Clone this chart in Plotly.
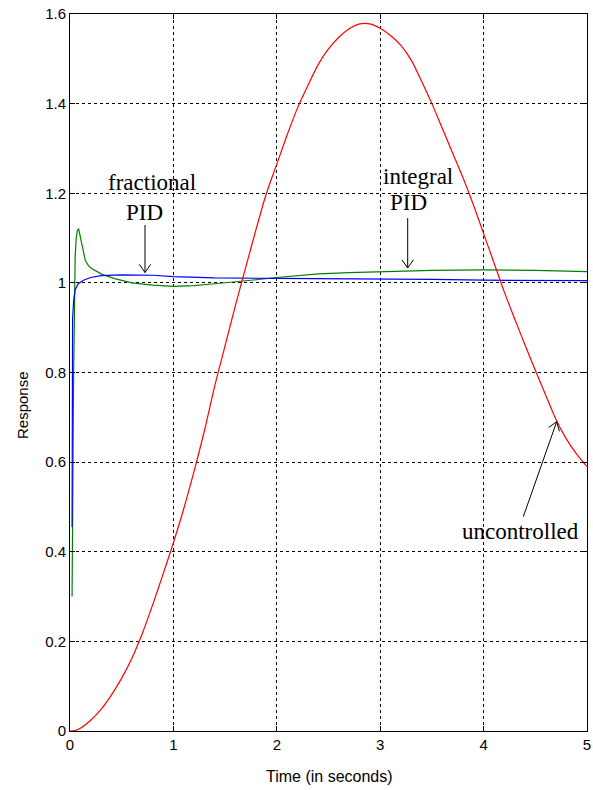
import math
import plotly.graph_objects as go

# ---------------- data ----------------
t_uncontrolled = [0, 0.05, 0.1, 0.2, 0.3, 0.4, 0.5, 0.6, 0.7, 0.8, 0.9, 1.0, 1.1, 1.2, 1.3, 1.4,
                  1.5, 1.6, 1.7, 1.8, 1.9, 2.0, 2.1, 2.2, 2.3, 2.4, 2.5, 2.6, 2.7, 2.8, 2.9,
                  3.0, 3.1, 3.2, 3.3, 3.4, 3.5, 3.6, 3.7, 3.8, 3.9, 4.0, 4.1, 4.2, 4.3, 4.4,
                  4.5, 4.6, 4.7, 4.8, 4.9, 5.0]
y_uncontrolled = [0, 0.001, 0.006, 0.024, 0.048, 0.08, 0.118, 0.163, 0.218, 0.282, 0.35, 0.42, 0.496,
                  0.58, 0.67, 0.77, 0.86, 0.95, 1.035, 1.12, 1.2, 1.265, 1.33, 1.39, 1.44,
                  1.487, 1.522, 1.548, 1.567, 1.578, 1.578, 1.568, 1.552, 1.53, 1.497, 1.45,
                  1.4, 1.345, 1.29, 1.235, 1.175, 1.11, 1.045, 0.98, 0.92, 0.862, 0.805,
                  0.75, 0.695, 0.652, 0.618, 0.59]

t_integral = [0.02, 0.025, 0.035, 0.04, 0.045, 0.05, 0.06, 0.072, 0.084, 0.095, 0.116, 0.148,
              0.18, 0.21, 0.31, 0.44, 0.6, 0.8, 1.0, 1.2, 1.4, 1.6, 1.8, 2.0, 2.2, 2.4, 2.7,
              3.0, 3.5, 4.0, 4.5, 5.0]
y_integral = [0.30, 0.6, 0.8, 0.88, 1.0, 1.06, 1.1, 1.118, 1.12, 1.108, 1.088, 1.05,
              1.038, 1.032, 1.019, 1.009, 1.0, 0.995, 0.992, 0.994, 0.998, 1.002, 1.007,
              1.012, 1.016, 1.02, 1.023, 1.025, 1.028, 1.029, 1.028, 1.025]

t_fractional = [0.02, 0.022, 0.025, 0.035, 0.05, 0.08, 0.13, 0.2, 0.3, 0.5, 0.8, 1.0, 1.4,
                2.0, 3.0, 3.5, 4.0, 5.0]
y_fractional = [0.455, 0.8, 0.92, 0.96, 0.985, 0.998, 1.006, 1.012, 1.016, 1.018, 1.017,
                1.014, 1.011, 1.01, 1.009, 1.008, 1.006, 1.005]

x_ticks = [0, 1, 2, 3, 4, 5]
x_ticktext = ["0", "1", "2", "3", "4", "5"]
y_ticks = [0, 0.2, 0.4, 0.6, 0.8, 1.0, 1.2, 1.4, 1.6]
y_ticktext = ["0", "0.2", "0.4", "0.6", "0.8", "1", "1.2", "1.4", "1.6"]

# ---------------- geometry ----------------
# page body margin is removed in post_script; plot area spans x 70..587, y 14..731
W, H = 593, 790
SL, SR, ST, SB = 70, 587, 14, 731
ML, MT, MR, MB = SL, ST, W - SR, H - SB
X0, X1, Y0, Y1 = 0, 5, 0, 1.6
pw, ph = SR - SL, SB - ST


def px2x(px):
    return X0 + (px - SL) / pw * (X1 - X0)


def px2y(py):
    return Y0 + (SB - py) / ph * (Y1 - Y0)


fig = go.Figure()
fig.add_trace(go.Scatter(x=t_integral, y=y_integral, mode="lines",
                         line=dict(color="#008000", width=1.2), name="integral PID"))
fig.add_trace(go.Scatter(x=t_fractional, y=y_fractional, mode="lines",
                         line=dict(color="#0000ff", width=1.2), name="fractional PID"))
fig.add_trace(go.Scatter(x=t_uncontrolled, y=y_uncontrolled, mode="lines",
                         line=dict(color="#ff0000", width=1.2, shape="spline", smoothing=0.8),
                         name="uncontrolled"))

serif = "Liberation Serif, Times New Roman, serif"
labels = [
    ("fractional", 152, 182),
    ("PID", 144, 212),
    ("integral", 417.5, 176),
    ("PID", 408.7, 202),
    ("uncontrolled", 520.5, 531),
]
annotations = []
for txt, px, py in labels:
    annotations.append(dict(text=txt, x=px2x(px), y=px2y(py), xref="x", yref="y",
                            showarrow=False, xanchor="center", yanchor="middle",
                            font=dict(family=serif, size=23, color="black")))

# axis titles placed in paper coordinates
sans = "Liberation Sans, Arial, sans-serif"
annotations.append(dict(text="Time (in seconds)", x=(329.5 - SL) / pw, y=(SB - 776) / ph,
                        xref="paper", yref="paper", showarrow=False,
                        xanchor="center", yanchor="middle",
                        font=dict(family=sans, size=16, color="black")))
annotations.append(dict(text="Response", x=(22 - SL) / pw, y=(SB - 405) / ph,
                        xref="paper", yref="paper", showarrow=False, textangle=-90,
                        xanchor="center", yanchor="middle",
                        font=dict(family=sans, size=15, color="black")))

# arrows (tail px, head px) drawn as line shapes with open V heads
arrows = [((145, 225), (145, 272.5)),
          ((407.7, 218), (407.7, 268)),
          ((523.3, 516.7), (556.7, 421.7))]
shapes = []
for (tx, ty), (hx, hy) in arrows:
    shapes.append(dict(type="line", xref="x", yref="y", x0=px2x(tx), y0=px2y(ty),
                       x1=px2x(hx), y1=px2y(hy), line=dict(color="black", width=1)))
    dx, dy = tx - hx, ty - hy
    L = math.hypot(dx, dy)
    ux, uy = dx / L, dy / L
    for ang in (math.radians(35), -math.radians(35)):
        ax = ux * math.cos(ang) - uy * math.sin(ang)
        ay = ux * math.sin(ang) + uy * math.cos(ang)
        shapes.append(dict(type="line", xref="x", yref="y", x0=px2x(hx), y0=px2y(hy),
                           x1=px2x(hx + 10 * ax), y1=px2y(hy + 10 * ay),
                           line=dict(color="black", width=1)))

axis_font = dict(family=sans, size=15, color="black")
common = dict(showline=True, linecolor="black", linewidth=1, mirror="allticks",
              ticks="inside", ticklen=5, tickcolor="black", tickwidth=1,
              showgrid=True, gridcolor="black", gridwidth=1, griddash="3px,3px",
              zeroline=False, tickfont=axis_font, automargin=False)

fig.update_layout(
    width=W, height=H,
    margin=dict(l=ML, r=MR, t=MT, b=MB, autoexpand=False),
    paper_bgcolor="white", plot_bgcolor="white",
    showlegend=False,
    annotations=annotations,
    shapes=shapes,
    xaxis=dict(range=[X0, X1], tickvals=x_ticks, ticktext=x_ticktext, **common),
    yaxis=dict(range=[Y0, Y1], tickvals=y_ticks, ticktext=y_ticktext, **common),
)

fig.write_html("out.html",
               config={"displayModeBar": False},
               post_script="document.body.style.margin='0';document.body.style.overflow='hidden';")
